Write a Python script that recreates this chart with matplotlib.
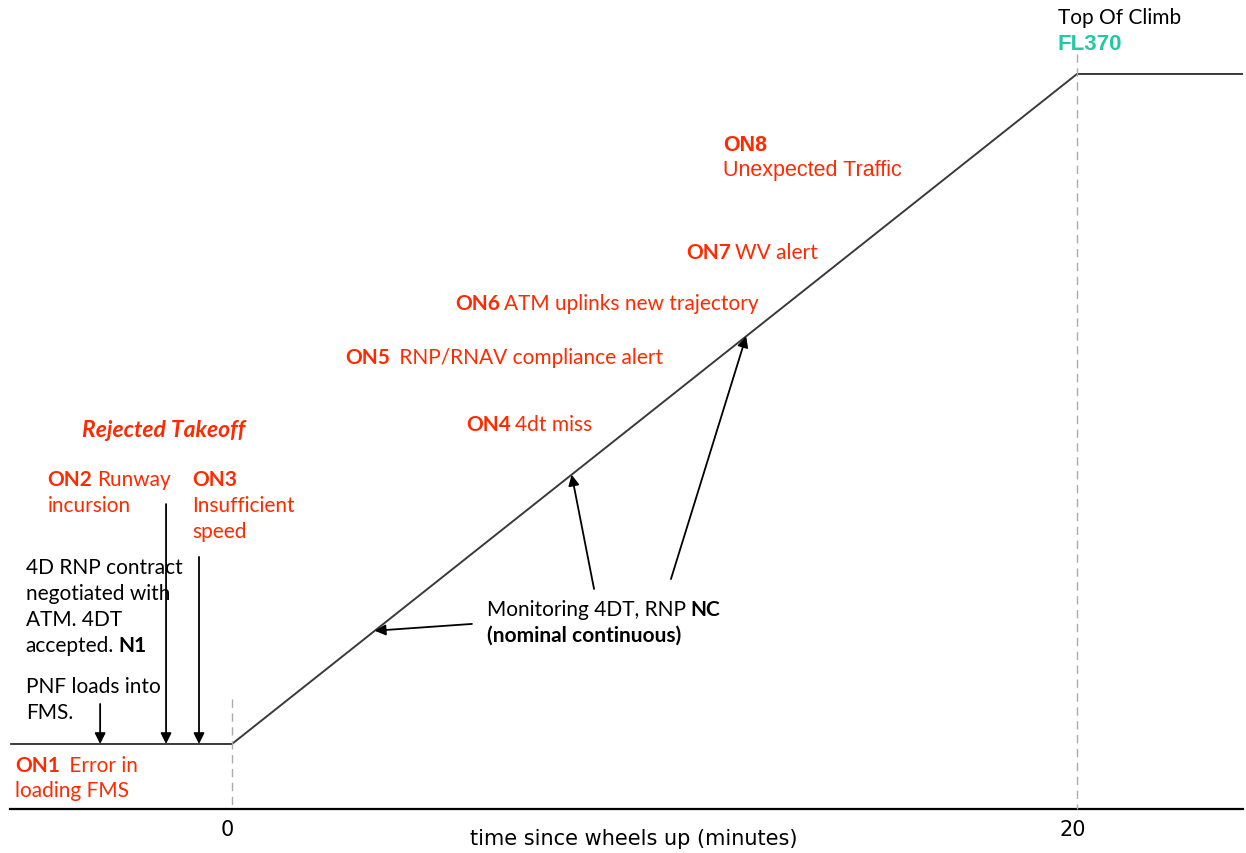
import numpy as np
import matplotlib
matplotlib.use("Agg")
import matplotlib.pyplot as plt

plt.rcParams['font.family'] = ['Lato', 'DejaVu Sans']

# ---- data ----
profile_t = [-5.25, 0.0, 20.0, 23.93]      # minutes since wheels up
profile_alt = [0.0, 0.0, 370.0, 370.0]      # flight level
tick_pos = [0, 20]
tick_labels = ["0", "20"]
ground_arrow_t = [-3.12, -1.56, -0.78]      # PNF loads, ON2, ON3
ground_arrow_tail = [22.1, 132.5, 103.3]
climb_arrow_t = [3.38, 8.04, 12.17]         # monitoring arrows hit the profile
climb_arrow_tail_t = [5.68, 8.57, 10.39]
climb_arrow_tail_alt = [66.3, 85.6, 91.1]

RED = '#FF2A00'
TEAL = '#22C9A4'
FS = 15

fig = plt.figure(figsize=(12.46, 8.54), dpi=100)
ax = fig.add_axes([0, 0, 1, 1])
ax.set_xlim(-5.49, 24.0)
ax.set_ylim(-60.2, 411.4)
ax.axis('off')

# profile
ax.plot(profile_t, profile_alt, color='#3a3a3a', lw=1.4, solid_capstyle='butt')
# time axis line
ax.plot([profile_t[0], profile_t[-1]], [-35.9, -35.9], color='black', lw=1.6)
# dashed markers
ax.plot([0, 0], [24.8, -35.9], color='#aaaaaa', lw=1.0, ls=(0, (6, 4)))
ax.plot([20, 20], [381.0, -35.9], color='#aaaaaa', lw=1.0, ls=(0, (6, 4)))

for p, l in zip(tick_pos, tick_labels):
    ax.text(p - 0.1, -46.9, l, ha='center', va='center', fontsize=15, color='black',
            family='DejaVu Sans')
ax.text(9.5, -51.8, "time since wheels up (minutes)", ha='center', va='center',
        fontsize=15, color='black', family='DejaVu Sans')

ap = dict(arrowstyle='-|>', color='black', lw=1.3, mutation_scale=16, shrinkA=0, shrinkB=0)
for t, tail in zip(ground_arrow_t, ground_arrow_tail):
    head = np.interp(t, profile_t, profile_alt)
    ax.annotate('', xy=(t, head), xytext=(t, tail), arrowprops=ap)
for t, tt, ta in zip(climb_arrow_t, climb_arrow_tail_t, climb_arrow_tail_alt):
    head = np.interp(t, profile_t, profile_alt)
    ax.annotate('', xy=(t, head), xytext=(tt, ta), arrowprops=ap)


def pieces(x, y, parts, size=FS, family=None):
    """parts: list of (text, color, weight, style)"""
    prev = None
    kw = {} if family is None else {'family': family}
    for txt, col, w, st in parts:
        if prev is None:
            prev = ax.text(x, y, txt, ha='left', va='center', fontsize=size,
                           color=col, fontweight=w, fontstyle=st, **kw)
        else:
            prev = ax.annotate(txt, xy=(1, 0), xycoords=prev, xytext=(3, 0),
                               textcoords='offset points', ha='left', va='bottom',
                               fontsize=size, color=col, fontweight=w, fontstyle=st, **kw)
    return prev


B, N = 'bold', 'normal'
ax.text(19.55, 401.4, "Top Of Climb", ha='left', va='center', fontsize=FS, color='black')
ax.text(19.55, 387.1, "FL370", ha='left', va='center', fontsize=16, color=TEAL,
        fontweight='bold', family='Liberation Sans')

pieces(11.62, 331.3, [("ON8", RED, B, N)], size=15.5, family='Liberation Sans')
pieces(11.62, 317.5, [("Unexpected Traffic", RED, N, N)], size=15.5, family='Liberation Sans')
pieces(10.75, 271.7, [("ON7", RED, B, N), ("WV alert", RED, N, N)])
pieces(5.28, 243.5, [("ON6", RED, B, N), ("ATM uplinks new trajectory", RED, N, N)])
pieces(2.67, 213.7, [("ON5", RED, B, N), (" RNP/RNAV compliance alert", RED, N, N)])
pieces(5.54, 176.7, [("ON4", RED, B, N), ("4dt miss", RED, N, N)])

ax.text(-3.55, 173.9, "Rejected Takeoff", ha='left', va='center', fontsize=16.5,
        color=RED, fontweight='bold', fontstyle='italic')
pieces(-4.36, 146.3, [("ON2", RED, B, N), ("Runway", RED, N, N)])
pieces(-4.36, 132.0, [("incursion", RED, N, N)])
pieces(-0.95, 146.3, [("ON3", RED, B, N)])
pieces(-0.95, 132.0, [("Insufficient", RED, N, N)])
pieces(-0.95, 117.6, [("speed", RED, N, N)])

pieces(-4.88, 97.7, [("4D RNP contract", 'black', N, N)])
pieces(-4.88, 83.4, [("negotiated with", 'black', N, N)])
pieces(-4.88, 69.0, [("ATM. 4DT", 'black', N, N)])
pieces(-4.88, 54.7, [("accepted.", 'black', N, N), ("N1", 'black', B, N)])
pieces(-4.88, 32.0, [("PNF loads into", 'black', N, N)])
pieces(-4.88, 17.7, [("FMS.", 'black', N, N)])

pieces(-5.14, -11.6, [("ON1", RED, B, N), (" Error in", RED, N, N)])
pieces(-5.14, -25.4, [("loading FMS", RED, N, N)])

pieces(6.04, 74.5, [("Monitoring 4DT, RNP", 'black', N, N), ("NC", 'black', B, N)])
pieces(6.04, 60.2, [("(nominal continuous)", 'black', B, N)])

fig.savefig("out.png", dpi=100, facecolor='white')
